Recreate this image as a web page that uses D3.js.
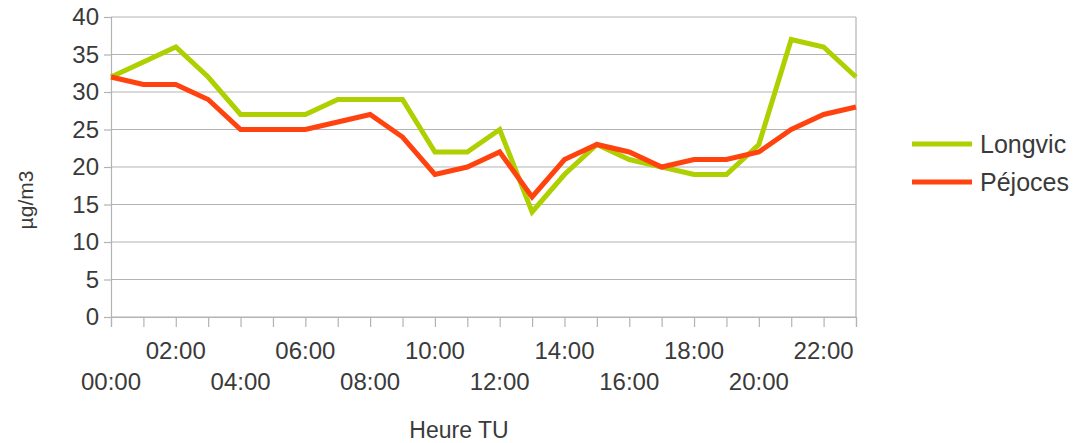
<!DOCTYPE html>
<html>
<head>
<meta charset="utf-8">
<script src="https://cdn.jsdelivr.net/npm/d3@7"></script>
<style>
  body { margin: 0; background: #fff; }
  svg { display: block; font-family: "Liberation Sans", Arial, sans-serif; }
</style>
</head>
<body>
<svg id="chart" width="1075" height="443"></svg>
<script>
// Hourly concentrations (µg/m3), hours in UT
const hours = ["00:00","01:00","02:00","03:00","04:00","05:00","06:00","07:00","08:00","09:00","10:00","11:00",
               "12:00","13:00","14:00","15:00","16:00","17:00","18:00","19:00","20:00","21:00","22:00","23:00"];
const longvic = [32,34,36,32,27,27,27,29,29,29,22,22,25,14,19,23,21,20,19,19,23,37,36,32];
const pejoces = [32,31,31,29,25,25,25,26,27,24,19,20,22,16,21,23,22,20,21,21,22,25,27,28];
const yTicks = [0,5,10,15,20,25,30,35,40];
const seriesNames = ["Longvic", "Péjoces"];
const seriesColors = ["#aecf00", "#ff420e"];

const svg = d3.select("#chart");
const plotLeft = 111, plotRight = 856, plotTop = 17, plotBottom = 317;
const textColor = "#3a3a3a";
const gridColor = "#b3b3b3";

const x = d3.scalePoint().domain(hours).range([plotLeft, plotRight]);
const y = d3.scaleLinear().domain([0, 40]).range([plotBottom, plotTop]);

// horizontal grid
svg.append("g").selectAll("line").data(yTicks).join("line")
  .attr("x1", plotLeft).attr("x2", plotRight)
  .attr("y1", d => y(d)).attr("y2", d => y(d))
  .attr("stroke", gridColor).attr("stroke-width", 1.2);

// right border of plot
svg.append("line").attr("x1", plotRight).attr("x2", plotRight).attr("y1", plotTop).attr("y2", plotBottom)
  .attr("stroke", gridColor).attr("stroke-width", 1.2);

// y axis
const yAxis = svg.append("g").attr("transform", `translate(${plotLeft},0)`)
  .call(d3.axisLeft(y).tickValues(yTicks).tickSize(7).tickPadding(5));
yAxis.select(".domain").attr("stroke", gridColor).attr("stroke-width", 1.2);
yAxis.selectAll(".tick line").attr("stroke", gridColor).attr("stroke-width", 1.2);
yAxis.selectAll(".tick text").attr("font-size", 24).attr("fill", textColor)
  .attr("font-family", "Liberation Sans, Arial, sans-serif");

// x axis
const xAxis = svg.append("g").attr("transform", `translate(0,${plotBottom})`)
  .call(d3.axisBottom(x).tickSize(10).tickFormat(""));
xAxis.select(".domain").attr("stroke", gridColor).attr("stroke-width", 1.2);
xAxis.selectAll(".tick line").attr("stroke", gridColor).attr("stroke-width", 1.2);

// x labels every 2 hours, staggered on two rows
const labelled = hours.filter((h, i) => i % 2 === 0);
svg.append("g").selectAll("text").data(labelled).join("text")
  .attr("x", d => x(d))
  .attr("y", (d, i) => i % 2 === 0 ? 390 : 359)
  .attr("text-anchor", "middle")
  .attr("font-size", 24).attr("fill", textColor)
  .text(d => d);

// axis titles
svg.append("text")
  .attr("transform", "translate(33,200) rotate(-90)")
  .attr("text-anchor", "middle").attr("font-size", 21).attr("fill", textColor)
  .text("µg/m3");
svg.append("text")
  .attr("x", 459).attr("y", 438)
  .attr("text-anchor", "middle").attr("font-size", 23).attr("fill", textColor)
  .text("Heure TU");

// lines
const line = d3.line().x((d, i) => x(hours[i])).y(d => y(d));
[longvic, pejoces].forEach((s, k) => {
  svg.append("path").datum(s)
    .attr("d", line)
    .attr("fill", "none")
    .attr("stroke", seriesColors[k])
    .attr("stroke-width", 5)
    .attr("stroke-linejoin", "miter");
});

// legend
const legend = svg.append("g").selectAll("g").data(seriesNames).join("g")
  .attr("transform", (d, i) => `translate(912,${144 + i * 38})`);
legend.append("line").attr("x1", 0).attr("x2", 60).attr("y1", 0).attr("y2", 0)
  .attr("stroke", (d, i) => seriesColors[i]).attr("stroke-width", 5);
legend.append("text").attr("x", 68).attr("y", 9)
  .attr("font-size", 25).attr("fill", textColor).text(d => d);
</script>
</body>
</html>
